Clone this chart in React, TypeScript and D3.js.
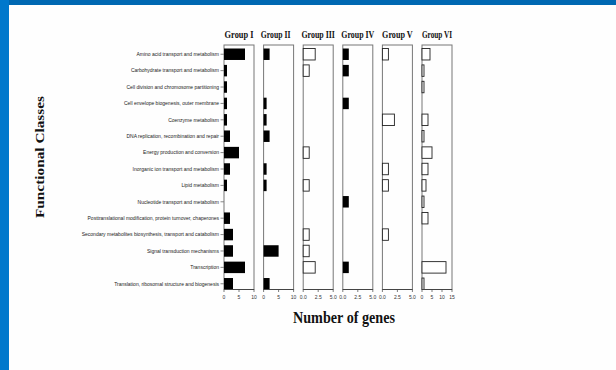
import { useMemo } from "react";
import { scaleBand, scaleLinear } from "d3";

// Functional classes (rows, top to bottom)
const categories = [
    "Amino acid transport and metabolism",
    "Carbohydrate transport and metabolism",
    "Cell division and chromosome partitioning",
    "Cell envelope biogenesis, outer membrane",
    "Coenzyme metabolism",
    "DNA replication, recombination and repair",
    "Energy production and conversion",
    "Inorganic ion transport and metabolism",
    "Lipid metabolism",
    "Nucleotide transport and metabolism",
    "Posttranslational modification, protein turnover, chaperones",
    "Secondary metabolites biosynthesis, transport and catabolism",
    "Signal transduction mechanisms",
    "Transcription",
    "Translation, ribosomal structure and biogenesis",
];

const groupNames = ["Group I", "Group II", "Group III", "Group IV", "Group V", "Group VI"];

// number of genes per class, one array per group
const groupI = [7, 1, 1, 1, 1, 2, 5, 2, 1, 0, 2, 3, 3, 7, 3];
const groupII = [2, 0, 0, 1, 1, 2, 0, 1, 1, 0, 0, 0, 5, 0, 2];
const groupIII = [2, 1, 0, 0, 0, 0, 1, 0, 1, 0, 0, 1, 1, 2, 0];
const groupIV = [1, 1, 0, 1, 0, 0, 0, 0, 0, 1, 0, 0, 0, 1, 0];
const groupV = [1, 0, 0, 0, 2, 0, 0, 1, 1, 0, 0, 1, 0, 0, 0];
const groupVI = [4, 1, 1, 0, 3, 1, 5, 3, 2, 1, 3, 0, 0, 12, 1];

const groupValues = [groupI, groupII, groupIII, groupIV, groupV, groupVI];
const groupMax = [10, 10, 5, 5, 5, 15];
const groupTicks = [
    ["0", "5", "10"],
    ["0", "5", "10"],
    ["0.0", "2.5", "5.0"],
    ["0.0", "2.5", "5.0"],
    ["0.0", "2.5", "5.0"],
    ["0", "5", "10", "15"],
];
const filled = [true, true, false, true, false, false];
// horizontal squeeze of the bold serif titles (figure uses a condensed face)
const titleScale = [0.76, 0.7, 0.72, 0.72, 0.74, 0.66];

const W = 616;
const H = 370;
const serif = "'Liberation Serif', 'DejaVu Serif', serif";
const sans = "'Liberation Sans', Arial, sans-serif";

export default function App() {
    const top = 45;
    const bottom = 289.5;
    const panelW = 30;
    const panelStep = 39.6;
    const firstLeft = 224;

    const y = useMemo(
        () => scaleBand<string>().domain(categories).range([48.5, bottom]).paddingInner(0.3).paddingOuter(0),
        [],
    );

    return (
        <div style={{ position: "absolute", left: 0, top: 0 }}>
            <svg width={W} height={H} viewBox={`0 0 ${W} ${H}`} style={{ display: "block" }}>
                <rect x={0} y={0} width={W} height={H} fill="#fefefe" />
                {/* slide frame */}
                <rect x={0} y={0} width={W} height={5} fill="#0068b2" />
                <rect x={0} y={0} width={9} height={H} fill="#0078cc" />

                {/* y title */}
                <text
                    x={43.5}
                    y={157}
                    textAnchor="middle"
                    fontFamily={serif}
                    fontWeight="bold"
                    fontSize={13.5}
                    fill="#111"
                    textLength={122}
                    lengthAdjust="spacingAndGlyphs"
                    transform={`rotate(-90, 43.5, 157)`}
                >
                    Functional Classes
                </text>

                {/* category labels + ticks on first panel */}
                {categories.map((c) => {
                    const cy = (y(c) ?? 0) + y.bandwidth() / 2;
                    return (
                        <g key={c}>
                            <text
                                x={219}
                                y={cy + 1.8}
                                textAnchor="end"
                                fontFamily={sans}
                                fontSize={5}
                                fill="#222"
                            >
                                {c}
                            </text>
                            <line x1={220.5} x2={224} y1={cy} y2={cy} stroke="#555" strokeWidth={0.7} />
                        </g>
                    );
                })}

                {groupNames.map((g, gi) => {
                    const left = firstLeft + gi * panelStep;
                    const x = scaleLinear().domain([0, groupMax[gi]]).range([left, left + panelW]);
                    const ticks = groupTicks[gi];
                    const cx = left + panelW / 2 - (gi === 1 ? 3 : 0);
                    return (
                        <g key={g}>
                            <g transform={`translate(${cx}, 38) scale(${titleScale[gi]}, 1)`}>
                                <text
                                    x={0}
                                    y={0}
                                    textAnchor="middle"
                                    fontFamily={serif}
                                    fontWeight="bold"
                                    fontSize={11}
                                    fill="#111"
                                >
                                    {g}
                                </text>
                            </g>
                            <rect
                                x={left}
                                y={top}
                                width={panelW}
                                height={bottom - top}
                                fill="none"
                                stroke="#777"
                                strokeWidth={1}
                            />
                            {groupValues[gi].map((v, i) =>
                                v > 0 ? (
                                    <rect
                                        key={i}
                                        x={x(0)}
                                        y={y(categories[i])}
                                        width={x(v) - x(0)}
                                        height={y.bandwidth()}
                                        fill={filled[gi] ? "#000" : "#fff"}
                                        stroke="#222"
                                        strokeWidth={filled[gi] ? 0 : 0.9}
                                    />
                                ) : null,
                            )}
                            {/* x axis */}
                            <line x1={left} x2={left + panelW} y1={bottom} y2={bottom} stroke="#444" strokeWidth={1} />
                            {ticks.map((t) => {
                                const tx = x(parseFloat(t));
                                return (
                                    <g key={t}>
                                        <line x1={tx} x2={tx} y1={bottom} y2={bottom + 2.5} stroke="#444" strokeWidth={0.7} />
                                        <text
                                            x={tx}
                                            y={bottom + 9}
                                            textAnchor="middle"
                                            fontFamily={sans}
                                            fontSize={5}
                                            fill="#333"
                                        >
                                            {t}
                                        </text>
                                    </g>
                                );
                            })}
                        </g>
                    );
                })}

                {/* x title */}
                <text
                    x={344}
                    y={323}
                    textAnchor="middle"
                    fontFamily={serif}
                    fontWeight="bold"
                    fontSize={16}
                    fill="#111"
                    textLength={102}
                    lengthAdjust="spacingAndGlyphs"
                >
                    Number of genes
                </text>
            </svg>
        </div>
    );
}
